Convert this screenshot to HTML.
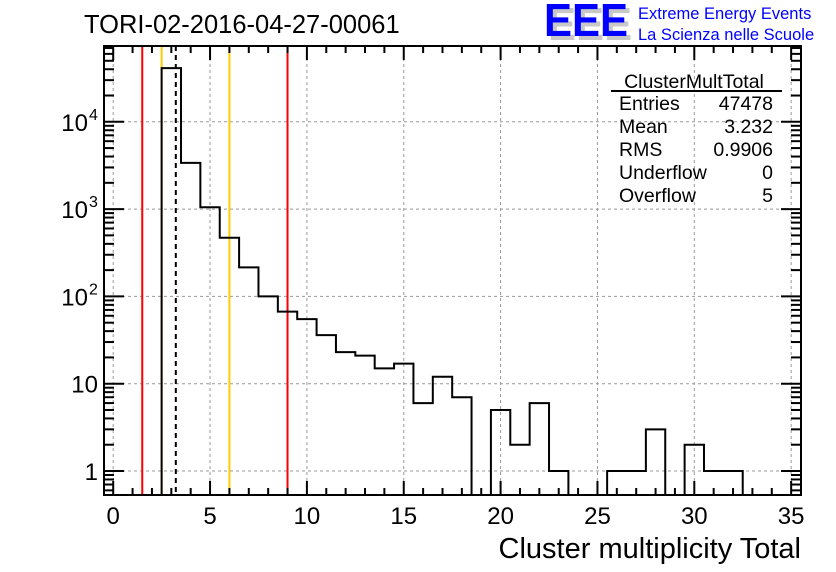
<!DOCTYPE html>
<html><head><meta charset="utf-8"><style>
body{margin:0;background:#fff}
svg{display:block;font-family:"Liberation Sans",sans-serif}
</style></head><body>
<svg id="c" width="836" height="572">
<rect width="836" height="572" fill="#fff"/>
<g id="grid"></g>
<g id="vlines"></g>
<path id="hist" fill="none" stroke="#000" stroke-width="2"/>
<g id="axes"></g>
<text x="84" y="33" font-size="25.5">TORI-02-2016-04-27-00061</text>
<g>
<text x="548" y="40" font-size="46" font-weight="bold" fill="#c8c8c8" textLength="84" lengthAdjust="spacingAndGlyphs">EEE</text>
<text x="544" y="36" font-size="46" font-weight="bold" fill="#0000ff" textLength="84" lengthAdjust="spacingAndGlyphs">EEE</text>
<text x="638" y="19" font-size="16.5" fill="#0000ff">Extreme Energy Events</text>
<text x="638" y="40" font-size="16.5" fill="#0000ff">La Scienza nelle Scuole</text>
</g>
<g font-size="19.5">
<text x="694" y="88" text-anchor="middle">ClusterMultTotal</text>
<line x1="611" x2="782" y1="91" y2="91" stroke="#000" stroke-width="2"/>
<text x="619" y="110">Entries</text><text x="773" y="110" text-anchor="end">47478</text>
<text x="619" y="133">Mean</text><text x="773" y="133" text-anchor="end">3.232</text>
<text x="619" y="156">RMS</text><text x="773" y="156" text-anchor="end">0.9906</text>
<text x="619" y="179">Underflow</text><text x="773" y="179" text-anchor="end">0</text>
<text x="619" y="202">Overflow</text><text x="773" y="202" text-anchor="end">5</text>
</g>
<text x="801" y="558" font-size="29" text-anchor="end">Cluster multiplicity Total</text>
</svg>
<script>
const binCenters=[3,4,5,6,7,8,9,10,11,12,13,14,15,16,17,18,19,20,21,22,23,24,25,26,27,28,29,30,31,32];
const counts=[41200,3390,1050,470,215,100,67,55,36,23,21,15,17,6,12,7,0,5,2,6,1,0,0,1,1,3,0,2,1,1];
const xTicks=[0,5,10,15,20,25,30,35];
const yDecades=[1,10,100,1000,10000];
const yLabels=["1","10","10^2","10^3","10^4"];
const markers=[{v:1.5,c:"#ff0000",d:""},{v:2.5,c:"#ffcc00",d:""},{v:3.232,c:"#000",d:"5,4"},{v:6,c:"#ffcc00",d:""},{v:9,c:"#ff0000",d:""}];
const L=104,R=801,T=46,B=495;
const X=v=>113.2+v*19.37;
const Y=v=>471-Math.log10(v)*87.3;
const ns="http://www.w3.org/2000/svg";
function mk(p,t,a){const e=document.createElementNS(ns,t);for(const k in a)e.setAttribute(k,a[k]);p.appendChild(e);return e;}
const grid=document.getElementById('grid'),axes=document.getElementById('axes'),vl=document.getElementById('vlines');
xTicks.forEach(t=>{const l=mk(grid,'line',{x1:X(t),x2:X(t),y1:T,y2:B,stroke:'#999','stroke-dasharray':'3,3'});

});
yDecades.forEach(t=>{const l=mk(grid,'line',{x1:L,x2:R,y1:Y(t),y2:Y(t),stroke:'#999','stroke-dasharray':'3,3'});

});
markers.forEach(m=>{const a={x1:X(m.v),x2:X(m.v),y1:T,y2:B,stroke:m.c,'stroke-width':2};if(m.d)a['stroke-dasharray']=m.d;const l=mk(vl,'line',a);

});
let d='';
binCenters.forEach((c,i)=>{const y=counts[i]>0?Y(counts[i]):B;const x0=X(c-0.5),x1=X(c+0.5);
d+=(i==0?`M${x0},${B}`:'')+`L${x0},${y}L${x1},${y}`;});
d+=`L${X(binCenters[binCenters.length-1]+0.5)},${B}`;
document.getElementById('hist').setAttribute('d',d);
const f=mk(axes,'rect',{x:L,y:T,width:R-L,height:B-T,fill:'none',stroke:'#000','stroke-width':2});


for(let v=0;v<=35;v++){const len=v%5==0?14:7;
mk(axes,'line',{x1:X(v),x2:X(v),y1:B,y2:B-len,stroke:'#000','stroke-width':2});
mk(axes,'line',{x1:X(v),x2:X(v),y1:T,y2:T+len,stroke:'#000','stroke-width':2});}
xTicks.forEach(t=>{const tx=mk(axes,'text',{x:X(t),y:524,'font-size':24,'text-anchor':'middle'});tx.textContent=t;

});
for(let e=-1;e<=4;e++)for(let m=1;m<=9;m++){const v=m*Math.pow(10,e);const y=Y(v);if(y<T||y>B)continue;const len=m==1?20:10;
mk(axes,'line',{x1:L,x2:L+len,y1:y,y2:y,stroke:'#000','stroke-width':2});
mk(axes,'line',{x1:R,x2:R-len,y1:y,y2:y,stroke:'#000','stroke-width':2});}
yDecades.forEach((t,i)=>{const s=yLabels[i];const tx=mk(axes,'text',{x:s.includes('^')?88:98,y:Y(t)+9,'font-size':24,'text-anchor':'end'});


if(s.includes('^')){const p=s.split('^');tx.textContent='10';const sp=mk(axes,'text',{x:89,y:Y(t)-2,'font-size':16});sp.textContent=p[1];

}else tx.textContent=s;});
</script>
</body></html>
